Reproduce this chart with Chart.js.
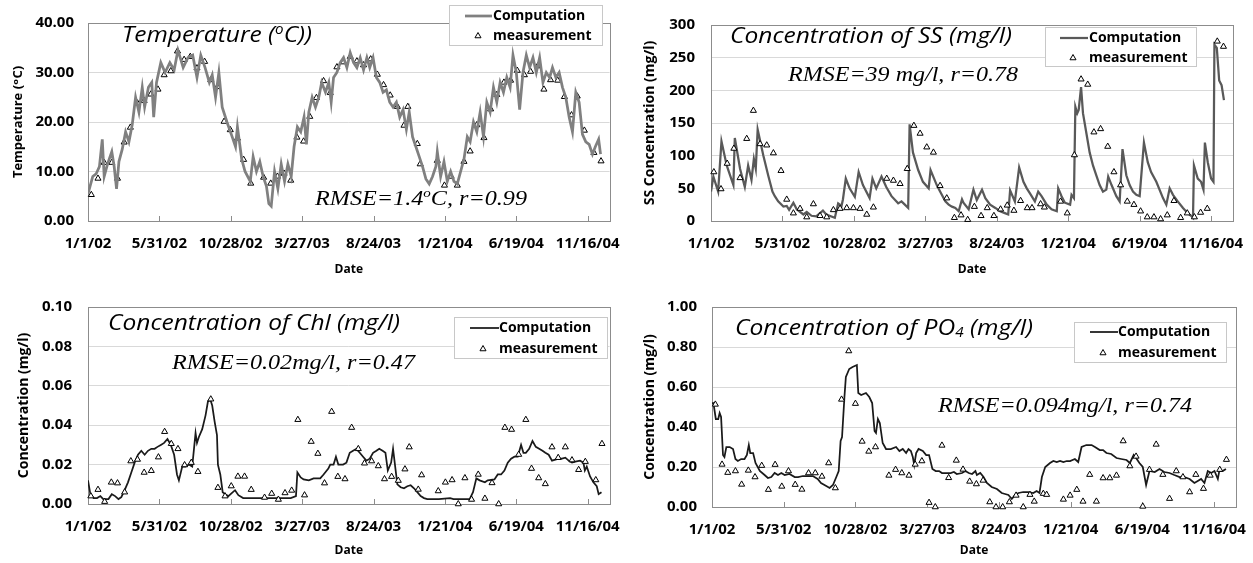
<!DOCTYPE html>
<html>
<head>
<meta charset="utf-8">
<script src="https://cdn.jsdelivr.net/npm/chart.js@4.4.1/dist/chart.umd.min.js"></script>
<style>
    body { margin: 0; background: #fff; }
    #wrap { position: relative; width: 1253px; height: 563px; overflow: hidden; }
    canvas { position: absolute; }
</style>
</head>
<body>
<div id="wrap">
    <canvas id="c1" width="626" height="282" style="left:0;top:0"></canvas>
    <canvas id="c2" width="627" height="282" style="left:626px;top:0"></canvas>
    <canvas id="c3" width="626" height="281" style="left:0;top:282px"></canvas>
    <canvas id="c4" width="627" height="281" style="left:626px;top:282px"></canvas>
</div>
<script>
// x axis: days since 1/1/02
const tickDays = [0, 150, 300, 450, 600, 750, 900, 1050];
const tickLabels = ['1/1/02', '5/31/02', '10/28/02', '3/27/03', '8/24/03', '1/21/04', '6/19/04', '11/16/04'];

// temperature, [day, value]
const tempLine = [[0,5.5],[10,9],[17,9.5],[24,11],[30,16.5],[34,9],[41,11.5],[50,14],[55,11],[60,6.5],[65,12],[72,14.5],
    [79,18],[86,16],[93,19.5],[100,25],[107,22],[114,27],[119,23],[127,27],[134,28],[138,21],[144,28],[153,32],[162,30],
    [172,32],[181,30.5],[189,34.5],[200,31],[210,33],[220,33.5],[229,29],[237,33.5],[246,31],[255,28],[261,29.5],[268,25],
    [275,30],[282,23],[292,20],[303,17],[310,15],[314,19],[323,12.5],[330,10],[341,8],[347,13],[354,10],[361,12],[368,9],
    [375,7],[380,3.5],[385,3],[392,10],[399,6.5],[406,11.5],[413,8],[420,11.5],[427,9],[433,15],[440,19],[447,18],[454,21],
    [459,15.5],[464,22],[471,25],[478,23],[485,25],[491,28],[499,26],[506,28],[511,24],[516,29],[523,30],[530,32],[537,33],
    [544,31],[551,34],[558,32],[565,31],[572,33],[579,30.5],[586,33],[592,31],[599,33],[606,29],[613,28],[620,26],[627,26.5],
    [634,24],[641,23],[648,24],[655,21],[662,22.5],[669,18.5],[675,22],[682,17],[689,15],[696,13],[703,11],[710,8.5],
    [717,7.5],[724,9],[731,11],[734,14],[741,9],[748,12],[755,8],[762,10],[769,8],[776,7.5],[783,10],[790,12.5],[797,17],
    [803,16],[810,20],[817,18],[824,22],[831,17],[838,24],[845,22],[852,27],[859,24],[866,28],[873,26],[880,29],[887,27],
    [893,33.5],[900,30],[907,22.5],[914,30],[921,33.5],[928,31],[935,33],[942,30],[949,33],[956,28],[963,30],[970,29],
    [976,31],[983,29],[990,30],[997,27],[1004,25],[1011,21],[1018,18],[1025,26],[1032,24],[1039,17.5],[1046,16],
    [1053,15.5],[1060,13.5],[1066,15],[1073,16.5],[1077,13.5]];
const tempObs = [[7,5.3],[21,8.6],[34,11.8],[50,11.8],[62,8.6],[76,15.9],[89,18.9],[104,23.8],[118,24.3],[132,25.6],
    [147,26.6],[160,29.5],[174,30.3],[188,34.3],[202,32.6],[215,33.2],[229,30.9],[245,32.2],[258,28.5],[272,27.1],[286,20.1],
    [299,18.4],[314,16.7],[327,12.4],[342,7.6],[369,8.8],[384,7.6],[398,9.0],[412,9.6],[426,8.2],[439,16.9],[453,16.1],
    [466,21.1],[480,24.9],[495,28.3],[509,25.9],[523,31.1],[537,32.1],[551,33.2],[565,32.3],[579,31.5],[594,32.7],[608,29.6],
    [621,27.5],[635,25.4],[650,23.1],[664,19.3],[672,23.1],[692,15.6],[698,11.5],[734,12.2],[749,7.2],[763,9.0],[776,7.2],
    [790,12.0],[803,14.1],[817,19.4],[832,16.8],[846,22.6],[859,25.5],[874,28.0],[888,28.4],[902,30.4],[917,29.5],
    [930,30.2],[945,31.3],[958,26.6],[972,28.5],[987,28.4],[1001,25.1],[1016,21.4],[1028,25.2],[1043,18.3],[1063,13.8],
    [1078,12.1]];

// suspended solids
const ssLine = [[0,45],[5,68],[15,45],[22,122],[33,85],[47,55],[50,127],[61,80],[71,52],[78,85],[85,63],[90,95],[94,80],
    [98,140],[110,100],[120,70],[129,45],[134,38],[141,30],[152,22],[159,23],[164,17],[173,28],[180,18],[194,10],[201,14],
    [211,8],[221,7],[235,16],[242,10],[260,5],[267,27],[274,23],[277,33],[283,65],[291,50],[302,37],[310,75],[319,55],
    [333,35],[339,65],[347,50],[358,68],[368,52],[379,38],[393,27],[400,30],[407,25],[414,20],[417,148],[424,105],[435,78],
    [445,60],[457,50],[461,78],[474,55],[481,45],[492,30],[499,25],[506,22],[513,20],[520,15],[527,33],[530,28],[541,18],
    [551,48],[558,32],[569,48],[576,35],[586,25],[597,20],[607,15],[617,12],[624,10],[628,47],[638,30],[647,82],[656,60],
    [663,50],[670,42],[680,30],[687,45],[694,38],[705,25],[715,18],[726,15],[729,50],[736,38],[743,28],[754,25],[757,40],
    [762,35],[765,175],[769,165],[772,170],[777,205],[781,165],[788,135],[795,105],[802,85],[809,70],[816,55],[823,45],
    [830,48],[834,68],[841,55],[851,38],[858,30],[864,110],[872,70],[879,55],[886,45],[893,40],[900,38],[909,120],[917,90],
    [924,75],[935,60],[949,35],[956,25],[963,50],[970,40],[980,30],[991,20],[1001,12],[1008,8],[1012,5],[1014,85],[1022,65],
    [1029,60],[1034,48],[1037,120],[1043,90],[1050,65],[1055,60],[1057,270],[1062,265],[1067,215],[1072,208],[1077,185]];
const ssObs = [[6,75],[21,49],[34,88],[48,111],[61,66],[75,126],[89,169],[103,118],[117,116],[131,104],[147,77],[159,33],
    [173,12],[187,19],[201,6],[215,26],[229,8],[243,6],[257,17],[271,19],[285,20],[299,20],[313,19],[327,10],[341,21],
    [369,65],[383,62],[397,57],[412,80],[426,146],[439,134],[453,113],[467,105],[481,54],[495,35],[511,5],[525,9],[539,2],
    [553,22],[567,8],[580,20],[594,8],[608,18],[622,24],[636,16],[650,31],[664,20],[674,20],[692,26],[700,21],[734,30],
    [748,12],[763,101],[777,217],[791,209],[804,136],[818,141],[833,114],[846,75],[860,55],[874,30],[888,25],[902,15],
    [916,6],[930,6],[944,3],[958,9],[972,31],[986,5],[1000,12],[1015,6],[1028,13],[1042,19],[1063,275],[1076,267]];

// chlorophyll
const chlLine = [[0,0.012],[5,0.005],[12,0.003],[19,0.003],[26,0.004],[32,0.0025],[43,0.0025],[50,0.005],[57,0.004],
    [64,0.0025],[70,0.0035],[77,0.007],[84,0.011],[91,0.016],[98,0.021],[105,0.025],[112,0.027],[119,0.025],[126,0.027],
    [133,0.028],[140,0.028],[146,0.029],[153,0.03],[160,0.031],[167,0.033],[174,0.03],[181,0.025],[187,0.015],[191,0.012],
    [198,0.019],[205,0.019],[212,0.02],[219,0.019],[226,0.036],[229,0.031],[233,0.034],[240,0.038],[247,0.045],[252,0.052],
    [257,0.053],[261,0.05],[266,0.042],[271,0.035],[273,0.02],[278,0.015],[283,0.006],[288,0.005],[295,0.004],[302,0.0055],
    [309,0.007],[316,0.0045],[326,0.003],[371,0.003],[406,0.003],[426,0.003],[437,0.004],[440,0.016],[447,0.0135],
    [453,0.0125],[464,0.012],[474,0.013],[488,0.013],[495,0.015],[505,0.018],[509,0.02],[516,0.02],[521,0.024],[526,0.02],
    [536,0.02],[543,0.021],[550,0.026],[557,0.027],[564,0.028],[571,0.026],[578,0.024],[585,0.022],[592,0.023],[599,0.026],
    [606,0.027],[612,0.028],[619,0.027],[625,0.026],[630,0.017],[637,0.021],[641,0.028],[646,0.018],[650,0.01],[657,0.0085],
    [664,0.008],[671,0.009],[678,0.0095],[685,0.008],[692,0.006],[699,0.004],[706,0.003],[713,0.0025],[737,0.0025],
    [761,0.003],[768,0.0025],[802,0.0025],[809,0.006],[816,0.013],[823,0.012],[834,0.011],[840,0.012],[854,0.0125],
    [861,0.015],[868,0.015],[875,0.017],[882,0.021],[889,0.023],[896,0.024],[903,0.024],[910,0.03],[915,0.026],[920,0.026],
    [927,0.028],[934,0.032],[941,0.029],[948,0.028],[955,0.027],[961,0.026],[968,0.025],[975,0.022],[982,0.0225],[989,0.023],
    [996,0.023],[1003,0.0235],[1010,0.022],[1017,0.021],[1024,0.0215],[1034,0.022],[1041,0.021],[1044,0.017],[1048,0.019],
    [1055,0.014],[1062,0.011],[1069,0.009],[1073,0.005],[1079,0.006]];
const chlObs = [[6,0.004],[21,0.0073],[35,0.0012],[49,0.011],[62,0.0106],[77,0.006],[90,0.0218],[104,0.0226],[118,0.016],
    [133,0.0169],[148,0.0238],[161,0.0367],[175,0.0306],[189,0.028],[203,0.0198],[217,0.021],[231,0.0164],[258,0.0532],
    [273,0.0083],[288,0.004],[301,0.0091],[315,0.014],[329,0.014],[343,0.0073],[371,0.0033],[386,0.0053],[400,0.0023],
    [414,0.0056],[428,0.0069],[441,0.0428],[455,0.0045],[469,0.0317],[483,0.0256],[497,0.0106],[512,0.0469],[525,0.0139],
    [540,0.0127],[554,0.0388],[568,0.028],[581,0.0207],[596,0.0218],[610,0.0193],[623,0.0127],[638,0.0139],[652,0.0119],
    [666,0.0177],[675,0.0289],[694,0.0074],[701,0.0147],[736,0.0066],[751,0.011],[765,0.0122],[778,0.0],[792,0.0132],
    [806,0.0023],[820,0.015],[834,0.0028],[849,0.0107],[863,0.0],[876,0.0388],[890,0.0378],[905,0.0251],[920,0.0428],
    [932,0.018],[947,0.0132],[961,0.0102],[975,0.0289],[988,0.0235],[1003,0.0289],[1017,0.0223],[1031,0.0174],[1045,0.0215],
    [1067,0.0122],[1080,0.0306]];

// phosphate
const po4Line = [[0,0.52],[3,0.52],[8,0.44],[13,0.44],[16,0.47],[19,0.45],[23,0.26],[26,0.25],[30,0.30],[37,0.30],[44,0.29],
    [49,0.24],[54,0.23],[61,0.24],[68,0.24],[73,0.26],[77,0.31],[80,0.27],[86,0.27],[91,0.22],[100,0.18],[110,0.16],
    [117,0.145],[124,0.15],[131,0.17],[138,0.16],[145,0.17],[152,0.16],[162,0.165],[173,0.15],[180,0.15],[190,0.155],
    [200,0.155],[211,0.155],[221,0.14],[228,0.12],[239,0.105],[246,0.095],[253,0.11],[260,0.15],[265,0.18],[269,0.33],
    [272,0.35],[277,0.55],[280,0.65],[287,0.69],[294,0.70],[303,0.71],[306,0.57],[312,0.56],[322,0.57],[329,0.55],[335,0.52],
    [340,0.38],[343,0.37],[347,0.44],[351,0.42],[357,0.32],[364,0.29],[374,0.29],[385,0.30],[392,0.28],[399,0.29],[406,0.27],
    [411,0.29],[416,0.28],[420,0.25],[423,0.21],[427,0.27],[432,0.29],[441,0.28],[448,0.26],[454,0.26],[461,0.19],[468,0.18],
    [475,0.18],[481,0.17],[492,0.17],[499,0.17],[506,0.175],[512,0.165],[523,0.17],[530,0.18],[537,0.17],[544,0.165],
    [551,0.18],[554,0.16],[561,0.17],[568,0.15],[575,0.12],[585,0.10],[596,0.09],[606,0.07],[613,0.065],[620,0.06],[627,0.04],
    [634,0.06],[641,0.07],[651,0.075],[662,0.075],[672,0.07],[679,0.08],[685,0.07],[690,0.15],[697,0.2],[707,0.22],[714,0.23],
    [721,0.225],[728,0.23],[735,0.225],[742,0.23],[749,0.23],[759,0.24],[766,0.225],[773,0.30],[783,0.31],[794,0.31],
    [801,0.30],[811,0.285],[818,0.285],[825,0.27],[835,0.265],[846,0.245],[856,0.24],[867,0.235],[874,0.22],[882,0.26],
    [887,0.245],[894,0.22],[901,0.20],[908,0.11],[915,0.18],[926,0.175],[936,0.19],[946,0.175],[957,0.17],[967,0.16],
    [978,0.15],[988,0.15],[999,0.14],[1009,0.12],[1016,0.13],[1023,0.14],[1030,0.12],[1037,0.18],[1044,0.17],[1051,0.18],
    [1058,0.14],[1061,0.18],[1068,0.18],[1075,0.19]];
const po4Obs = [[7,0.513],[21,0.213],[33,0.172],[49,0.18],[62,0.113],[76,0.183],[90,0.15],[104,0.207],[118,0.087],
    [132,0.212],[146,0.103],[160,0.18],[174,0.112],[188,0.088],[202,0.17],[216,0.17],[230,0.153],[244,0.22],[258,0.095],
    [271,0.538],[286,0.78],[300,0.517],[314,0.328],[328,0.278],[342,0.3],[370,0.158],[384,0.187],[397,0.17],[412,0.158],
    [425,0.213],[439,0.23],[454,0.022],[467,0.0],[481,0.308],[495,0.146],[511,0.233],[525,0.188],[539,0.128],[553,0.115],
    [567,0.133],[581,0.025],[594,0.0],[608,0.0],[622,0.025],[636,0.058],[651,0.0],[665,0.062],[674,0.028],[693,0.067],
    [700,0.062],[735,0.038],[749,0.058],[763,0.087],[776,0.028],[790,0.162],[804,0.028],[818,0.145],[832,0.145],[846,0.158],
    [860,0.33],[874,0.205],[887,0.253],[901,0.003],[915,0.187],[929,0.313],[943,0.162],[957,0.042],[971,0.18],[985,0.15],
    [999,0.075],[1012,0.162],[1028,0.092],[1042,0.158],[1062,0.187],[1076,0.237]];

const SANS = "'Open Sans', 'DejaVu Sans', sans-serif";
const SERIF = "'Liberation Serif', 'DejaVu Serif', serif";

// draw a run of text pieces (0 normal, 1 superscript, -1 subscript), squeezed to a width
function drawRich(ctx, parts, x, y, size, family, width) {
    const setFont = (m) => { ctx.font = 'italic ' + (m ? size * 0.62 : size) + 'px ' + family; };
    let total = 0;
    parts.forEach(([t, m]) => { setFont(m); total += ctx.measureText(t).width; });
    ctx.save();
    ctx.translate(x, y);
    ctx.scale(width / total, 1);
    ctx.textAlign = 'left';
    ctx.textBaseline = 'alphabetic';
    ctx.fillStyle = '#000';
    let cx = 0;
    parts.forEach(([t, m]) => {
        setFont(m);
        const dy = m > 0 ? -size * 0.38 : (m < 0 ? size * 0.08 : 0);
        ctx.fillText(t, cx, dy);
        cx += ctx.measureText(t).width;
    });
    ctx.restore();
}

const decor = {
    id: 'decor',
    beforeDatasetsDraw(chart) {
        const { ctx, chartArea: a, scales: { x } } = chart;
        ctx.save();
        ctx.strokeStyle = '#8c8c8c';
        ctx.lineWidth = 1;
        ctx.strokeRect(Math.round(a.left) + 0.5, Math.round(a.top) + 0.5,
            Math.round(a.right - a.left), Math.round(a.bottom - a.top));
        ctx.beginPath();
        x.ticks.forEach(t => {
            const px = Math.round(x.getPixelForValue(t.value)) + 0.5;
            ctx.moveTo(px, a.bottom);
            ctx.lineTo(px, a.bottom - 5);
        });
        ctx.stroke();
        ctx.restore();
    },
    afterDraw(chart, args, o) {
        const ctx = chart.ctx;
        const ds = chart.data.datasets;
        drawRich(ctx, o.title, o.titleAt[0], o.titleAt[1], 22, SANS, o.titleAt[2]);
        drawRich(ctx, o.rmse, o.rmseAt[0], o.rmseAt[1], 21, SERIF, o.rmseAt[2]);

        const L = o.legend;
        ctx.save();
        ctx.fillStyle = '#fff';
        ctx.fillRect(L.box[0], L.box[1], L.box[2], L.box[3]);
        ctx.strokeStyle = '#c8c8c8';
        ctx.lineWidth = 1;
        ctx.strokeRect(L.box[0] + 0.5, L.box[1] + 0.5, L.box[2], L.box[3]);
        ctx.strokeStyle = ds[0].borderColor;
        ctx.lineWidth = ds[0].borderWidth;
        ctx.beginPath();
        ctx.moveTo(L.line[0], L.rows[0]);
        ctx.lineTo(L.line[1], L.rows[0]);
        ctx.stroke();
        ctx.fillStyle = '#fff';
        ctx.strokeStyle = '#000';
        ctx.lineWidth = 1;
        Chart.helpers.drawPoint(ctx, { pointStyle: 'triangle', radius: 3.5, borderWidth: 1, rotation: 0 }, L.tri, L.rows[1]);
        ctx.fillStyle = '#000';
        ctx.font = 'bold 14px ' + SANS;
        ctx.textBaseline = 'middle';
        ctx.textAlign = 'left';
        ctx.fillText(ds[0].label, L.text, L.rows[0]);
        ctx.fillText(ds[1].label, L.text, L.rows[1]);
        ctx.restore();
    }
};

function makeChart(id, p) {
    return new Chart(document.getElementById(id), {
        type: 'scatter',
        data: {
            datasets: [{
                label: 'Computation',
                data: p.line.map(d => ({ x: d[0], y: d[1] })),
                showLine: true,
                borderColor: p.color,
                borderWidth: p.width,
                pointRadius: 0,
                tension: 0,
                order: p.lineOnTop ? 1 : 2
            }, {
                label: 'measurement',
                data: p.obs.map(d => ({ x: d[0], y: d[1] })),
                pointStyle: 'triangle',
                pointRadius: 3.5,
                backgroundColor: '#fff',
                borderColor: '#000',
                borderWidth: 1,
                clip: false,
                order: p.lineOnTop ? 2 : 1
            }]
        },
        options: {
            responsive: false,
            animation: false,
            events: [],
            layout: { padding: { left: 0, top: p.area.top, right: p.area.right, bottom: 0 } },
            plugins: {
                legend: { display: false },
                tooltip: { enabled: false },
                decor: p.decor
            },
            scales: {
                x: {
                    type: 'linear',
                    min: 0,
                    max: 1096,
                    afterBuildTicks: s => { s.ticks = tickDays.map(v => ({ value: v })); },
                    afterFit: s => { s.height = p.area.xH; },
                    grid: { display: false },
                    border: { display: false },
                    ticks: {
                        autoSkip: false,
                        maxRotation: 0,
                        padding: 6,
                        color: '#000',
                        font: { family: SANS, size: 15, weight: 'bold' },
                        callback: v => tickLabels[tickDays.indexOf(v)]
                    },
                    title: {
                        display: true,
                        text: 'Date',
                        color: '#000',
                        font: { family: SANS, size: 12, weight: 'bold' },
                        padding: { top: 0, bottom: 5 }
                    }
                },
                y: {
                    min: 0,
                    max: p.yMax,
                    afterFit: s => { s.width = p.area.yW; },
                    grid: { color: '#d9d9d9', drawTicks: false },
                    border: { display: false },
                    ticks: {
                        stepSize: p.yStep,
                        padding: p.area.yPad,
                        color: '#000',
                        font: { family: SANS, size: 15, weight: 'bold' },
                        callback: v => v.toFixed(p.dec)
                    },
                    title: {
                        display: true,
                        text: p.yTitle,
                        color: '#000',
                        font: { family: SANS, size: p.yTitleSize, weight: 'bold' },
                        padding: { top: p.area.yTitlePad, bottom: 0 }
                    }
                }
            }
        },
        plugins: [decor]
    });
}

makeChart('c1', {
    line: tempLine, obs: tempObs, color: '#808080', width: 2.75, lineOnTop: true,
    yMax: 40, yStep: 10, dec: 2, yTitle: 'Temperature (ᵒC)', yTitleSize: 13,
    area: { top: 20, right: 9, xH: 61, yW: 88, yPad: 14, yTitlePad: 10 },
    decor: {
        title: [['Temperature (', 0], ['o', 1], ['C))', 0]], titleAt: [122, 42, 190],
        rmse: [['RMSE=1.4', 0], ['o', 1], ['C, r=0.99', 0]], rmseAt: [315, 205, 212],
        legend: { box: [449, 5, 153, 40], line: [465, 492], tri: 478, text: 493, rows: [16, 36] }
    }
});

makeChart('c2', {
    line: ssLine, obs: ssObs, color: '#595959', width: 2.25, lineOnTop: false,
    yMax: 300, yStep: 50, dec: 0, yTitle: 'SS Concentration (mg/l)', yTitleSize: 14,
    area: { top: 23, right: 20, xH: 61, yW: 85, yPad: 16, yTitlePad: 16 },
    decor: {
        title: [['Concentration of SS (mg/l)', 0]], titleAt: [104, 43, 282],
        rmse: [['RMSE=39 mg/l, r=0.78', 0]], rmseAt: [162, 81, 230],
        legend: { box: [419, 27, 151, 39], line: [434, 462], tri: 447, text: 463, rows: [38, 58] }
    }
});

makeChart('c3', {
    line: chlLine, obs: chlObs, color: '#1a1a1a', width: 1.75, lineOnTop: false,
    yMax: 0.1, yStep: 0.02, dec: 2, yTitle: 'Concentration (mg/l)', yTitleSize: 14,
    area: { top: 20, right: 9, xH: 59, yW: 88, yPad: 16, yTitlePad: 16 },
    decor: {
        title: [['Concentration of Chl (mg/l)', 0]], titleAt: [108, 48, 292],
        rmse: [['RMSE=0.02mg/l, r=0.47', 0]], rmseAt: [172, 87, 243],
        legend: { box: [454, 35, 153, 41], line: [470, 499], tri: 483, text: 499, rows: [46, 67] }
    }
});

makeChart('c4', {
    line: po4Line, obs: po4Obs, color: '#1a1a1a', width: 1.75, lineOnTop: false,
    yMax: 1, yStep: 0.2, dec: 2, yTitle: 'Concentration (mg/l)', yTitleSize: 14,
    area: { top: 25, right: 17, xH: 56, yW: 86, yPad: 15, yTitlePad: 16 },
    decor: {
        title: [['Concentration of PO', 0], ['4', -1], [' (mg/l)', 0]], titleAt: [109, 53, 298],
        rmse: [['RMSE=0.094mg/l, r=0.74', 0]], rmseAt: [312, 130, 254],
        legend: { box: [448, 40, 152, 40], line: [464, 492], tri: 477, text: 492, rows: [50, 71] }
    }
});
</script>
</body>
</html>
